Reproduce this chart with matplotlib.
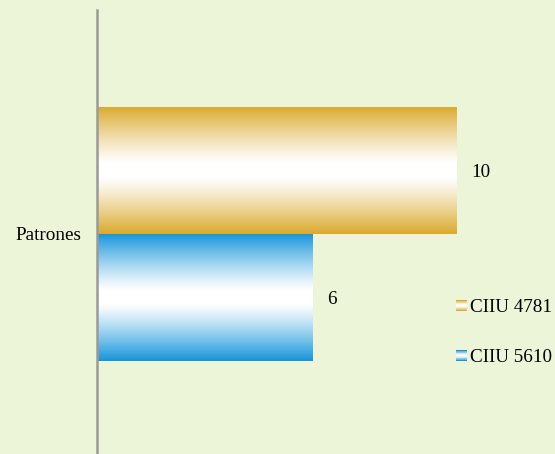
import numpy as np
import matplotlib
matplotlib.use('Agg')
import matplotlib.pyplot as plt
from matplotlib.colors import to_rgb


## Chart data ##
category = 'Patrones'
series_names = ['CIIU 4781', 'CIIU 5610']
series_values = [10, 6]
series_colors = ['#DAAA2D', '#1595DB']

bg_color = '#EDF5D9'
plt.rcParams['font.family'] = ['Liberation Serif', 'DejaVu Serif']


def gradient(color, n=256):
    # edge colour at top and bottom, fading to white in the middle
    t = np.linspace(0, 1, n)
    d = np.abs(t - 0.5) * 2
    f = np.clip((d - 0.1) / 0.9, 0, 1) ** 1.2
    edge = np.array(to_rgb(color))
    white = np.ones(3)
    rgb = white[None, :] + (edge - white)[None, :] * f[:, None]
    return rgb[:, None, :]


fig = plt.figure(figsize=[5.55, 4.54], dpi=100, facecolor=bg_color)
ax = fig.add_axes([97 / 555, 0, 458 / 555, 444 / 454])
ax.set_facecolor(bg_color)

bar_h = 0.35
offsets = [bar_h / 2, -bar_h / 2]
for value, off, color in zip(series_values, offsets, series_colors):
    bar = ax.barh(off, value, height=bar_h, facecolor='none',
                  edgecolor='none')[0]
    x0, y0 = bar.get_x(), bar.get_y()
    im = ax.imshow(gradient(color), aspect='auto', interpolation='bilinear',
                   extent=[x0, x0 + bar.get_width(), y0, y0 + bar.get_height()],
                   zorder=2)
    im.set_clip_path(bar)
    ax.annotate(f'{value}', xy=(value, off), xytext=(10, -1.5),
                textcoords='offset points', fontsize=13.8,
                ha='left', va='center')

ax.set_xlim(0, 458 / 36)
ax.set_ylim(-0.606, 0.617)
ax.set_yticks([0])
ax.set_yticklabels([category], fontsize=13.8)
ax.set_xticks([])
ax.tick_params(axis='y', length=0, pad=11)
for side in ['top', 'right', 'bottom']:
    ax.spines[side].set_visible(False)
ax.spines['left'].set_color('#9A9A9A')
ax.spines['left'].set_linewidth(1.8)
ax.spines['left'].set_zorder(3)

## Legend ##
legend_y = [306, 356]
for name, color, ly in zip(series_names, series_colors, legend_y):
    sw = fig.add_axes([456 / 555, 1 - (ly + 5) / 454, 11 / 555, 11 / 454])
    sw.imshow(gradient(color, 16), aspect='auto', interpolation='nearest')
    sw.axis('off')
    fig.text(470 / 555, 1 - (ly + 1.5) / 454, name, fontsize=13.8,
             ha='left', va='center')

plt.savefig('out.png', dpi=100, facecolor=bg_color)
